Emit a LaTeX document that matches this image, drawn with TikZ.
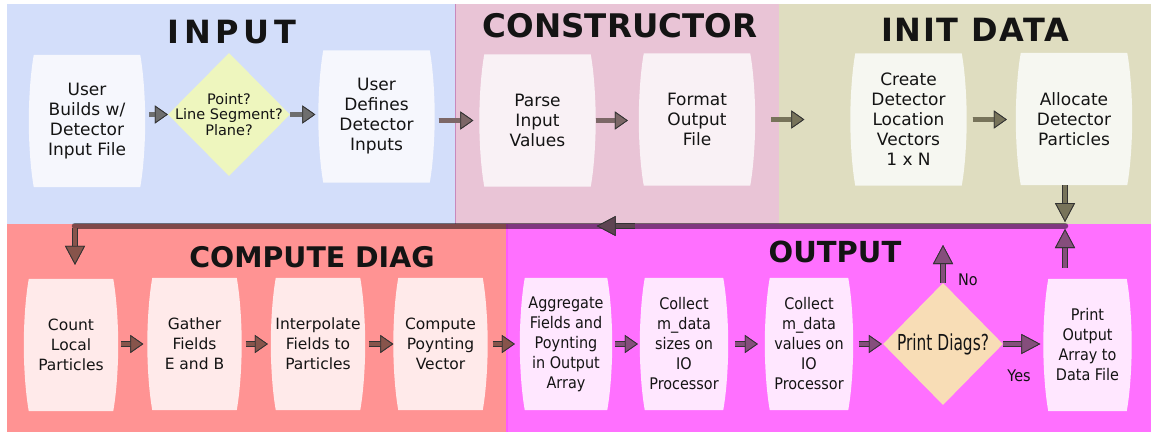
\documentclass[tikz,border=0pt]{standalone}
\usepackage{fontspec}
\setmainfont{DejaVu Sans}
\newfontfamily\narrowfont{DejaVu Sans}[FakeStretch=0.9]
\newfontfamily\diagfont{DejaVu Sans}[FakeStretch=0.7]
\usetikzlibrary{positioning,shapes.geometric,arrows.meta}

\definecolor{inbg}{HTML}{D3DEFA}
\definecolor{conbg}{HTML}{E9C4D6}
\definecolor{initbg}{HTML}{DFDDC0}
\definecolor{cmpbg}{HTML}{FF9393}
\definecolor{outbg}{HTML}{FF70FF}
\definecolor{inbox}{HTML}{F6F7FD}
\definecolor{conbox}{HTML}{F9F1F5}
\definecolor{initbox}{HTML}{F6F7F1}
\definecolor{cmpbox}{HTML}{FFEAEA}
\definecolor{outbox}{HTML}{FFE7FF}
\definecolor{inchoice}{HTML}{EEF6BE}
\definecolor{outchoice}{HTML}{F8DDB6}
\definecolor{ingray}{HTML}{6E6E6E}
\definecolor{conarr}{HTML}{7C6767}
\definecolor{initarr}{HTML}{77735A}
\definecolor{cmparr}{HTML}{87544B}
\definecolor{outarr}{HTML}{854E7C}
\definecolor{backarr}{HTML}{5E4452}
\definecolor{edge}{HTML}{333333}
\definecolor{ink}{HTML}{141414}

\pgfdeclarelayer{bg}
\pgfsetlayers{bg,main}

\tikzset{
  stage/.style={rectangle, minimum width=116pt, minimum height=132pt, inner sep=0pt, align=center, text=ink, font=\fontsize{17}{20}\selectfont},
  cmpstage/.style={stage, minimum width=94pt, font=\fontsize{15.5}{20}\selectfont},
  outstage/.style={stage, minimum width=88pt, font=\narrowfont\fontsize{16}{20}\selectfont},
  choice/.style={diamond, fill=#1, minimum width=122pt, minimum height=123pt, inner sep=0pt},
  title/.style={text=ink, font=\fontsize{#1}{#1}\selectfont\bfseries},
  flow/.style={line width=4.2pt, draw=#1, -{Triangle[length=13pt,width=18pt,fill=#1,color=edge,line width=0.8pt]}, preaction={draw=edge,line width=5.8pt}},
  flowlong/.style={line width=4.2pt, draw=#1, -{Triangle[length=19pt,width=20pt,fill=#1,color=edge,line width=0.8pt]}, preaction={draw=edge,line width=5.8pt}}
}

\begin{document}
\begin{tikzpicture}[x=1pt,y=-1pt]
\useasboundingbox (0,0) rectangle (1151,432);

\node[title=32] (tinput) at (232,32) {\addfontfeatures{LetterSpace=15}INPUT};
\node[title=32.5] (tcons) at (620,26) {CONSTRUCTOR};
\node[title=32] (tinit) at (975,30) {\addfontfeatures{LetterSpace=5}INIT DATA};
\node[title=28.4] (tcomp) at (312,257) {COMPUTE DIAG};
\node[title=29] (tout) at (835,252) {OUTPUT};

\node[stage] (build) at (87,121) {User\\Builds w/\\Detector\\Input File};
\node[choice=inchoice, label={[align=center, text=ink, font=\fontsize{14.5}{15.7}\selectfont]center:Point?\\Line Segment?\\Plane?}] (shape) at (229,114.5) {};
\node[stage] (defines) at (376.5,116.5) {User\\Defines\\Detector\\Inputs};
\node[stage] (parse) at (537.5,120.5) {Parse\\Input\\Values};
\node[stage] (format) at (697,119.5) {Format\\Output\\File};
\node[stage] (create) at (908.5,119.5) {Create\\Detector\\Location\\Vectors\\1 x N};
\node[stage] (allocate) at (1074,119) {Allocate\\Detector\\Particles};

\node[cmpstage] (count) at (71,345) {Count\\Local\\Particles};
\node[cmpstage] (gather) at (194.5,344) {Gather\\Fields\\E and B};
\node[cmpstage] (interp) at (318,344) {Interpolate\\Fields to\\Particles};
\node[cmpstage] (poynt) at (440.5,344) {Compute\\Poynting\\Vector};
\node[outstage, minimum width=92pt] (aggr) at (566,344) {Aggregate\\Fields and\\Poynting\\in Output\\Array};
\node[outstage] (sizes) at (684,344) {Collect\\m\_data\\sizes on\\IO\\Processor};
\node[outstage] (values) at (809,344) {Collect\\m\_data\\values on\\IO\\Processor};
\node[choice=outchoice, minimum width=120pt, minimum height=122pt, label={[text=ink, font=\diagfont\fontsize{22}{22}\selectfont]center:Print Diags?}] (diag) at (943,344) {};
\node[outstage] (printout) at (1087.5,345) {Print\\Output\\Array to\\Data File};

\begin{pgfonlayer}{bg}
\fill[inbg] (7,4) rectangle (455,224);
\fill[conbg] (455,4) rectangle (779,224);
\fill[initbg] (779,4) rectangle (1151,224);
\fill[cmpbg] (7,224) rectangle (506,432);
\fill[outbg] (506,224) rectangle (1151,432);
\draw[line width=1pt, color=conbg!70!violet] (455.5,4) -- (455.5,224);
\draw[line width=2pt, color=outbg!80!magenta] (507,224) -- (507,432);
\foreach \n/\c in {build/inbox, defines/inbox, parse/conbox, format/conbox, create/initbox, allocate/initbox, count/cmpbox, gather/cmpbox, interp/cmpbox, poynt/cmpbox, aggr/outbox, sizes/outbox, values/outbox, printout/outbox}
  \fill[\c] ([xshift=5pt]\n.north west) .. controls +(-3,16) and +(0,-24) .. (\n.west) .. controls +(0,24) and +(-3,-16) .. ([xshift=5pt]\n.south west) -- ([xshift=-5pt]\n.south east) .. controls +(3,-16) and +(0,24) .. (\n.east) .. controls +(0,-24) and +(3,16) .. ([xshift=-5pt]\n.north east) -- cycle;
\end{pgfonlayer}

\coordinate (ret) at (1065,226);
\coordinate (retl) at (75,226);
\coordinate (nogo) at (943,245);

\draw[flow=ingray, shorten <=4pt] (build.east |- shape.west) -- (shape.west);
\draw[flow=ingray, shorten >=3pt] (shape.east) -- (defines.west |- shape.east);
\draw[flow=conarr, shorten <=4pt, shorten >=6pt] (defines.east |- parse.west) -- (parse.west);
\draw[flow=conarr, shorten >=11pt] (parse.east) -- (format.west |- parse.east);
\draw[flow=initarr, shorten <=16pt, shorten >=46pt] (format.east) -- (create.west);
\draw[flow=initarr, shorten <=6pt, shorten >=9pt] (create.east) -- (allocate.west |- create.east);
\draw[flowlong=initarr, shorten >=4pt] (allocate.south -| ret) -- (ret);

\draw[line width=6.5pt, color=black, opacity=0.5, line cap=round] (ret) -- (retl);
\path (ret) -- (retl) coordinate[pos=0.434] (backa) coordinate[pos=0.473] (backb);
\draw[flowlong=backarr] (backa) -- (backb);
\draw[flowlong=cmparr, shorten <=2pt, shorten >=14pt] (retl) -- (retl |- count.north);

\draw[flow=cmparr, shorten <=3pt, shorten >=4pt] (count.east |- gather.west) -- (gather.west);
\draw[flow=cmparr, shorten <=4pt, shorten >=3pt] (gather.east) -- (interp.west);
\draw[flow=cmparr, shorten <=4pt] (interp.east) -- (poynt.west);
\draw[flow=cmparr, shorten <=5pt, shorten >=5pt] (poynt.east) -- (aggr.west);
\draw[flow=outarr, shorten <=3pt, shorten >=2pt] (aggr.east) -- (sizes.west);
\draw[flow=outarr, shorten <=7pt, shorten >=7pt] (sizes.east) -- (values.west);
\draw[flow=outarr, shorten <=6pt, shorten >=1pt] (values.east) -- (diag.west);
\draw[flowlong=outarr] (diag.north) -- (nogo);
\draw[flowlong=outarr, shorten >=3pt] (diag.east) -- (printout.west |- diag.east);
\draw[flowlong=outarr, shorten <=11pt, shorten >=3pt] (printout.north -| ret) -- (ret);

\node[text=ink, font=\narrowfont\fontsize{16}{16}\selectfont] (nolabel) at (968,280) {No};
\node[text=ink, font=\narrowfont\fontsize{16}{16}\selectfont] (yeslabel) at (1019,376) {Yes};
\end{tikzpicture}
\end{document}
